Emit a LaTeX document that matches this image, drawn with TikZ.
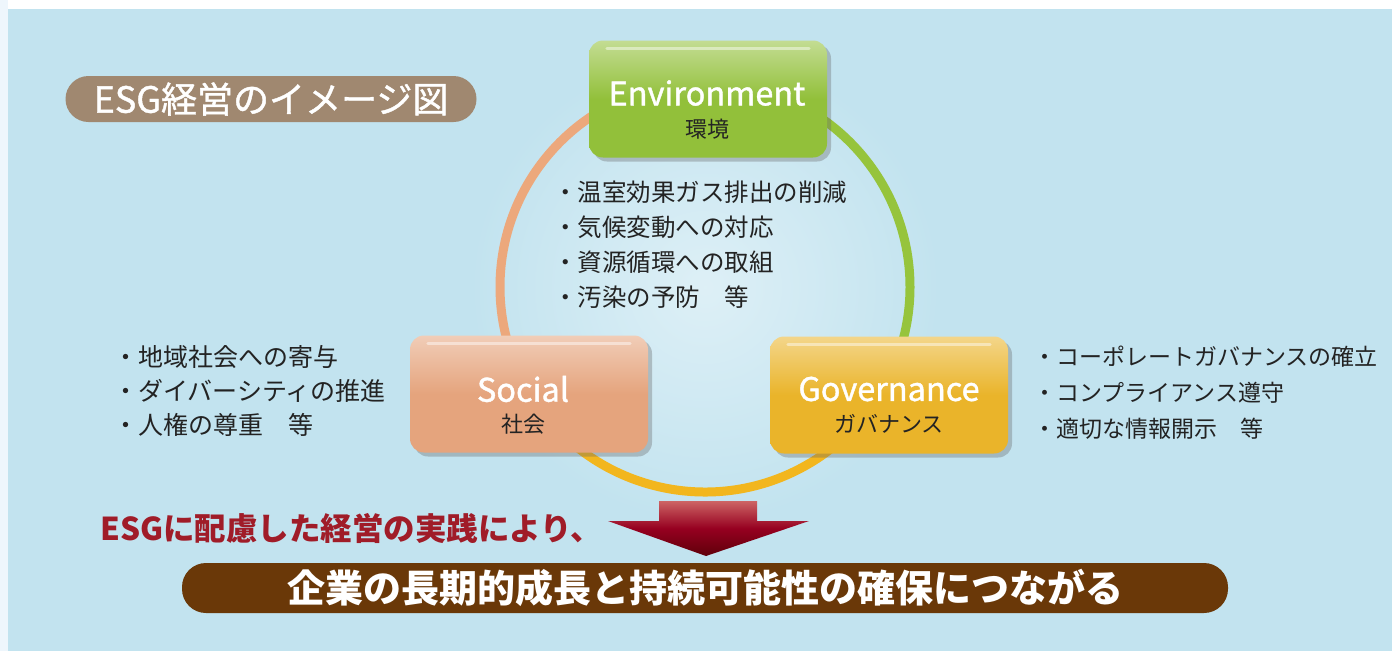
\documentclass[tikz,border=0pt]{standalone}
\usepackage{fontspec}
\setmainfont{Noto Sans CJK JP}
\newfontfamily\semib[FakeBold=1.2]{Noto Sans CJK JP}
\usetikzlibrary{shadows,shadings}
\definecolor{bg}{RGB}{194,227,239}
\definecolor{strip}{RGB}{238,246,252}
\definecolor{envc}{RGB}{146,192,58}
\definecolor{socc}{RGB}{229,164,125}
\definecolor{govc}{RGB}{234,180,42}
\definecolor{arcg}{RGB}{150,196,60}
\definecolor{arcs}{RGB}{236,168,124}
\definecolor{arcy}{RGB}{242,182,30}
\definecolor{pillc}{RGB}{160,136,112}
\definecolor{brownc}{RGB}{106,56,8}
\definecolor{redc}{RGB}{160,28,40}
\definecolor{arrtop}{RGB}{205,100,100}
\definecolor{arrmid}{RGB}{150,0,32}
\definecolor{arrbot}{RGB}{95,0,10}
\definecolor{txt}{RGB}{35,35,35}
\tikzset{
  pillarbox/.style={rounded corners=14pt, minimum width=238pt, minimum height=117pt,
    drop shadow={shadow xshift=4pt, shadow yshift=-4pt, opacity=0.35, fill=black!60}},
  titletext/.style={text=white, font=\fontsize{32.5}{32.5}\semib, inner sep=0pt},
  subtext/.style={text=txt, font=\fontsize{22}{22}\selectfont, inner sep=0pt},
  listtext/.style={text=txt, anchor=west, inner sep=0pt, align=left},
}
\begin{document}
\begin{tikzpicture}[x=1pt,y=-1pt]
\useasboundingbox (0,0) rectangle (1392,651);
\fill[white] (0,0) rectangle (1392,651);
\fill[strip] (0,0) rectangle (8,651);
\fill[bg] (8,9) rectangle (1392,651);
% glow inside circle
\shade[inner color=white!45!bg, outer color=bg] (705,287) circle[radius=235];
% ring
\coordinate (ctr) at (705,287);
\draw[arcg, line width=9pt] ([shift={(-90:205)}]ctr) arc[start angle=-90, end angle=31.5, radius=205];
\draw[arcs, line width=9pt] ([shift={(-90:205)}]ctr) arc[start angle=-90, end angle=-211.5, radius=205];
\draw[arcy, line width=9pt] ([shift={(148.5:205)}]ctr) arc[start angle=148.5, end angle=31.5, radius=205];
% label pill
\node[fill=pillc, rounded corners=23pt, minimum width=411pt, minimum height=46pt, inner sep=0pt,
  text=white, font=\fontsize{36}{36}\semib] (lbl) at (271,99) {ESG経営のイメージ図};
% boxes
\node[pillarbox, top color=envc!55!white, bottom color=envc, middle color=envc] (env) at (708,99) {};
\node[pillarbox, top color=socc!55!white, bottom color=socc, middle color=socc] (soc) at (529,394) {};
\node[pillarbox, top color=govc!55!white, bottom color=govc, middle color=govc] (gov) at (889,395) {};
\foreach \b in {env,soc,gov}{
  \draw[white, opacity=0.45, line width=3pt, line cap=round] ([xshift=18pt,yshift=-8pt]\b.north west) -- ([xshift=-18pt,yshift=-8pt]\b.north east);
}
\node[titletext] (envt) at (707,93) {Environment};
\node[subtext] (envs) at (707,129) {環境};
\node[titletext] (soct) at (523,389) {Social};
\node[subtext] (socs) at (523,424) {社会};
\node[titletext] (govt) at (889,389) {Governance};
\node[subtext] (govs) at (889,424) {ガバナンス};
% lists
\node[listtext, font=\fontsize{24.5}{35}\selectfont] (envl) at (553,245) {・温室効果ガス排出の削減\\・気候変動への対応\\・資源循環への取組\\・汚染の予防　等};
\node[listtext, font=\fontsize{25}{34}\selectfont] (socl) at (113,391) {・地域社会への寄与\\・ダイバーシティの推進\\・人権の尊重　等};
\node[listtext, font=\fontsize{23}{36}\selectfont] (govl) at (1033,393) {・コーポレートガバナンスの確立\\・コンプライアンス遵守\\・適切な情報開示　等};
% red text
\node[text=redc, font=\fontsize{31.5}{31.5}\selectfont\bfseries, anchor=west, inner sep=0pt] (red) at (100,528) {ESGに配慮した経営の実践により、};
% arrow
\shade[top color=arrtop, bottom color=arrbot, middle color=arrmid]
  (659,501) -- (757,501) -- (757,521) -- (809,521) -- (706,556) -- (608,521) -- (659,521) -- cycle;
% bottom pill
\node[fill=brownc, rounded corners=24pt, minimum width=1046pt, minimum height=50pt, inner sep=0pt,
  text=white, font=\fontsize{38}{38}\selectfont\bfseries] (res) at (705,588) {企業の長期的成長と持続可能性の確保につながる};
\end{tikzpicture}
\end{document}
